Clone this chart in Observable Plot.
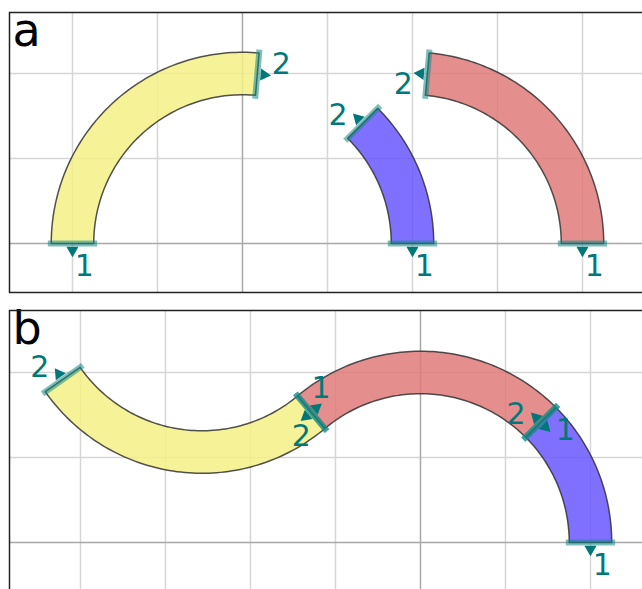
<!DOCTYPE html>
<html>
<head>
<meta charset="utf-8">
<script src="https://cdn.jsdelivr.net/npm/d3@7"></script>
<script src="https://cdn.jsdelivr.net/npm/@observablehq/plot@0.6"></script>
<style>
  html, body { margin: 0; padding: 0; background: #fff; overflow: hidden; width: 642px; height: 589px; }
  #chart { width: 642px; height: 589px; overflow: hidden; }
  #chart svg { display: block; max-width: none !important; }
</style>
</head>
<body>
<div id="chart"></div>
<script>
// ---- data ----
const panelLabels = ["a", "b"];
const pieceNames = ["yellow", "blue", "red"];
const pieceColors = ["#f4f086", "#6a57ff", "#e07a7a"];
const trackRadius = 2;
const trackWidth = 0.5;
const endLabels = ["1", "2"];

// panel a: arc centre, start angle (deg) and sweep (deg) for each piece
const aCenterX = [0, 0, 2];
const aCenterY = [0, 0, 0];
const aStartDeg = [180, 0, 0];
const aSweepDeg = [-95, 45, 85];

// panel b: the same pieces joined end to end
const bCenterX = [-2.571, 0, 0];
const bCenterY = [3.064, 0, 0];
const bStartDeg = [-50, 0, 45];
const bSweepDeg = [-95, 45, 85];

// grid lines
const gridA_X = [-2, -1, 1, 2, 3, 4, 5];
const gridA_Y = [1, 2];
const gridB_X = [-4, -3, -2, -1, 1, 2, 3];
const gridB_Y = [1, 2];
const zeroLine = [0];

// ---- helpers ----
const rad = d => d * Math.PI / 180;

function buildPieces(cx, cy, st, sw) {
  return pieceNames.map((name, i) => ({
    name, color: pieceColors[i], cx: cx[i], cy: cy[i], st: st[i], sw: sw[i]
  }));
}

function polygons(pieces) {
  const rows = [];
  const rOut = trackRadius + trackWidth / 2, rIn = trackRadius - trackWidth / 2;
  for (const p of pieces) {
    const N = 80;
    const pts = [];
    for (let i = 0; i <= N; i++) {
      const a = rad(p.st + p.sw * i / N);
      pts.push([p.cx + rOut * Math.cos(a), p.cy + rOut * Math.sin(a)]);
    }
    for (let i = N; i >= 0; i--) {
      const a = rad(p.st + p.sw * i / N);
      pts.push([p.cx + rIn * Math.cos(a), p.cy + rIn * Math.sin(a)]);
    }
    pts.push(pts[0]);
    for (const [x, y] of pts) rows.push({ id: p.name, color: p.color, x, y });
  }
  return rows;
}

function ends(pieces) {
  const out = [];
  for (const p of pieces) {
    const s = Math.sign(p.sw);
    const phi1 = rad(p.st), phi2 = rad(p.st + p.sw);
    const e = [
      { phi: phi1, label: endLabels[0], ox: s * Math.sin(phi1), oy: -s * Math.cos(phi1) },
      { phi: phi2, label: endLabels[1], ox: -s * Math.sin(phi2), oy: s * Math.cos(phi2) }
    ];
    for (const d of e) {
      const c = Math.cos(d.phi), sn = Math.sin(d.phi);
      const ex = p.cx + trackRadius * c, ey = p.cy + trackRadius * sn;
      const lx = -d.oy, ly = d.ox; // left of outward direction
      out.push({
        label: d.label,
        x1: p.cx + (trackRadius - 0.29) * c, y1: p.cy + (trackRadius - 0.29) * sn,
        x2: p.cx + (trackRadius + 0.29) * c, y2: p.cy + (trackRadius + 0.29) * sn,
        mx: ex + 0.08 * d.ox, my: ey + 0.08 * d.oy,
        rot: Math.atan2(d.ox, d.oy) * 180 / Math.PI,
        tx: ex + 0.27 * d.ox + 0.14 * lx, ty: ey + 0.27 * d.oy + 0.14 * ly
      });
    }
  }
  return out;
}

const UNIT = 85;
const teal = "#00787a";

function panel({label, pieces, xmin, ymax, ymin, width, height, mTop, mLeft, gx, gy}) {
  const mRight = 10;
  const plotW = width - mLeft - mRight;
  const plotH = (ymax - ymin) * UNIT;
  const mBottom = height - mTop - plotH;
  const xmax = xmin + plotW / UNIT;
  const E = ends(pieces);
  return Plot.plot({
    width, height,
    marginLeft: mLeft, marginRight: mRight, marginTop: mTop, marginBottom: mBottom,
    x: { domain: [xmin, xmax], axis: null },
    y: { domain: [ymin, ymax], axis: null },
    style: { fontFamily: "DejaVu Sans, sans-serif", background: "white", maxWidth: "none" },
    marks: [
      Plot.ruleX(gx, { stroke: "#d6d6d6", strokeWidth: 1.5 }),
      Plot.ruleY(gy, { stroke: "#d6d6d6", strokeWidth: 1.5 }),
      Plot.ruleX(zeroLine, { stroke: "#a8a8a8", strokeWidth: 1.5 }),
      Plot.ruleY(zeroLine, { stroke: "#a8a8a8", strokeWidth: 1.5 }),
      Plot.line(polygons(pieces), {
        x: "x", y: "y", z: "id", fill: "color", fillOpacity: 0.85,
        stroke: "#333", strokeWidth: 1.5, strokeOpacity: 0.85, curve: "linear"
      }),
      Plot.link(E, { x1: "x1", y1: "y1", x2: "x2", y2: "y2", stroke: "#138a86", strokeWidth: 6, strokeOpacity: 0.55 }),
      Plot.dot(E, { x: "mx", y: "my", symbol: "triangle", r: 4.5, rotate: "rot", fill: teal, stroke: "none" }),
      Plot.text(E, { x: "tx", y: "ty", text: "label", fill: teal, fontSize: 30, textAnchor: "middle", lineAnchor: "middle" }),
      Plot.text([label], { text: d => d, frameAnchor: "top-left", dx: 3, dy: 1, fontSize: 46, textAnchor: "start", lineAnchor: "top", fill: "black" }),
      Plot.frame({ stroke: "#222", strokeWidth: 1.5 })
    ]
  });
}

const chart = document.getElementById("chart");
chart.appendChild(panel({
  label: panelLabels[0],
  pieces: buildPieces(aCenterX, aCenterY, aStartDeg, aSweepDeg),
  xmin: -2.741, ymax: 2.718, ymin: -0.576,
  width: 760, height: 300, mTop: 12, mLeft: 9, gx: gridA_X, gy: gridA_Y
}));
chart.appendChild(panel({
  label: panelLabels[1],
  pieces: buildPieces(bCenterX, bCenterY, bStartDeg, bSweepDeg),
  xmin: -4.835, ymax: 2.729, ymin: -0.8,
  width: 760, height: 320, mTop: 10, mLeft: 9, gx: gridB_X, gy: gridB_Y
}));
</script>
</body>
</html>
